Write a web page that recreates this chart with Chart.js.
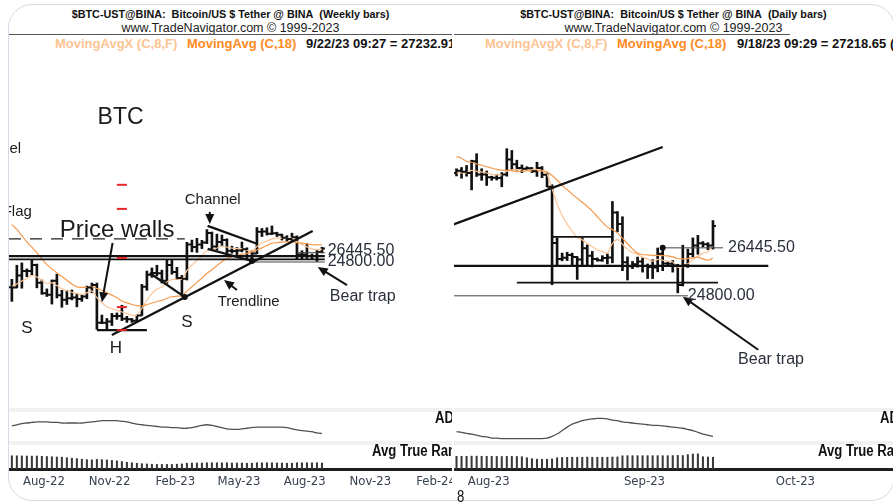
<!DOCTYPE html>
<html>
<head>
<meta charset="utf-8">
<script src="https://cdn.jsdelivr.net/npm/chart.js@4.4.0/dist/chart.umd.min.js"></script>
<style>
  html, body { margin: 0; padding: 0; background: #fff; }
  #wrap { position: relative; width: 893px; height: 504px; overflow: hidden; background: #fff;
          font-family: 'Liberation Sans', Arial, sans-serif; }
  .frame { position: absolute; left: 8px; top: 4px; width: 887px; height: 497px; box-sizing: border-box;
           border: 1.5px solid #d3dce5; border-radius: 24px; }
  .panel { position: absolute; top: 0; height: 504px; overflow: hidden; }
  #pl { left: 9px; width: 443px; }
  #pr { left: 454px; width: 439px; }
  .h1 { position: absolute; top: 7px; left: 0; width: 100%; text-align: center; white-space: nowrap;
        font-weight: bold; font-size: 10.8px; line-height: 14px; color: #111; }
  .h2 { position: absolute; top: 21px; left: 0; width: 100%; text-align: center; white-space: nowrap;
        font-size: 12.5px; line-height: 15px; color: #222; }
  .sep { position: absolute; top: 34px; height: 1px; background: #555; }
  .h3 { position: absolute; top: 36px; white-space: nowrap; font-weight: bold; font-size: 13px; line-height: 16px; }
  .ma8 { color: #fcc393; }
  .ma18 { color: #ff8a1e; }
  .strip { position: absolute; left: 0; width: 100%; height: 4px; background: #f1f1f1; }
  canvas { position: absolute; left: 0; }
  .lab { position: absolute; white-space: nowrap; font-weight: bold; font-size: 16px; line-height: 16px;
         transform: scaleX(0.82); transform-origin: left center; color: #111; }
</style>
</head>
<body>
<div id="wrap">
  <div class="frame"></div>

  <div class="panel" id="pl">
    <div class="h1">$BTC-UST@BINA:&nbsp; Bitcoin/US $ Tether @ BINA&nbsp; (Weekly bars)</div>
    <div class="h2">www.TradeNavigator.com © 1999-2023</div>
    <div class="sep" style="left:0;width:443px"></div>
    <div class="h3 ma8" style="left:46px">MovingAvgX (C,8,F)</div>
    <div class="h3 ma18" style="left:178px">MovingAvg (C,18)</div>
    <div class="h3" style="left:297px;color:#111">9/22/23 09:27 = 27232.91 (+0.52%)</div>
    <canvas id="lp" width="443" height="358" style="top:50px"></canvas>
    <div class="strip" style="top:408px"></div>
    <canvas id="la" width="443" height="29" style="top:412px"></canvas>
    <div class="strip" style="top:441px"></div>
    <canvas id="lt" width="443" height="50" style="top:445px"></canvas>
    <div class="lab" style="left:426px;top:410px">ADX</div>
    <div class="lab" style="left:363px;top:443px">Avg True Range</div>
  </div>

  <div class="panel" id="pr">
    <div class="h1">$BTC-UST@BINA:&nbsp; Bitcoin/US $ Tether @ BINA&nbsp; (Daily bars)</div>
    <div class="h2">www.TradeNavigator.com © 1999-2023</div>
    <div class="sep" style="left:0;width:336px"></div>
    <div class="h3 ma8" style="left:31px">MovingAvgX (C,8,F)</div>
    <div class="h3 ma18" style="left:163px">MovingAvg (C,18)</div>
    <div class="h3" style="left:283px;color:#111">9/18/23 09:29 = 27218.65 (+2.62%)</div>
    <canvas id="rp" width="439" height="358" style="top:50px"></canvas>
    <div class="strip" style="top:408px"></div>
    <canvas id="ra" width="439" height="29" style="top:412px"></canvas>
    <div class="strip" style="top:441px"></div>
    <canvas id="rt" width="439" height="50" style="top:445px"></canvas>
    <div class="lab" style="left:426px;top:410px">ADX</div>
    <div class="lab" style="left:364px;top:443px">Avg True Range</div>
    <div class="lab" style="left:3px;top:489px;font-weight:normal">8</div>
  </div>
</div>

<script>
// weekly bars, first bar week of 11 Jul 2022
const weekStart = '2022-07-11';
const wOpen = [20850,20800,22600,23300,23300,24300,21500,20000,19800,21800,
               19700,19100,19300,19400,19200,19550,20800,21150,16300,16300,
               16450,17100,17100,16770,16700,16550,17150,20900,22700,23000,
               22950,21800,24300,23150,22200,22100,28000,27500,28000,28350,
               30300,27600,28450,28850,26800,26750,26850,27100,25850,26300,
               30550,30600,30150,30250,29900,29300,29050,29400,26100,26100,
               25850,25850,26550];
const wHigh = [22000,24250,24650,23650,25200,24450,21900,20600,21900,22800,
               20400,20400,20450,19950,19700,21000,21450,21450,17200,16800,
               17400,17450,18400,17050,16800,17200,21250,23300,23800,24250,
               23450,25250,25100,23900,22600,28400,28850,29200,28800,31000,
               30500,30050,29850,29100,27650,27400,28450,27350,26800,31450,
               31250,31400,31800,30450,30050,29750,30250,29700,26800,28150,
               26200,26850,27450];
const wLow = [18900,20750,20700,22400,22650,20750,19850,19550,18550,19350,
              18150,18500,19100,18200,18900,19250,20050,15600,16200,15500,
              16000,16700,16550,16350,16350,16550,17150,20400,22300,22550,
              21450,21400,22800,21950,19550,21900,26600,26500,27200,28150,
              27150,26950,27700,25800,26350,25900,26600,25350,24800,26250,
              29550,29850,29950,29550,28850,28600,28750,25200,25350,25400,
              25300,24900,26400];
const wClose = [20800,22600,23300,23300,24300,21500,20000,19800,21800,19700,
                19100,19300,19400,19200,19550,20800,21150,16300,16300,16450,
                17100,17100,16770,16700,16550,17150,20900,22700,23000,22950,
                21800,24300,23150,22200,22100,28000,27500,28000,28350,30300,
                27600,28450,28850,26800,26750,26850,27100,25850,26300,30550,
                30600,30150,30250,29900,29300,29050,29400,26100,26100,25850,
                25850,26550,27230];
const wEma8 = [20960,21320,21760,22100,22590,22350,21830,21380,21470,21080,
               20640,20340,20130,19920,19840,20050,20300,19410,18720,18220,
               17970,17780,17560,17370,17190,17180,18010,19050,19930,20600,
               20870,21630,21970,22020,22040,23360,24280,25110,25830,26820,
               26990,27310,27650,27460,27300,27200,27180,26890,26760,27600,
               28270,28680,29030,29220,29240,29200,29240,28540,28000,27520,
               27150,27020,27060];
const wSma18 = [32090,31060,29750,28470,27470,26460,25380,24340,23650,23010,
                22430,21870,21290,20880,20820,20810,20910,20660,20410,20070,
                19730,19380,18960,18700,18500,18360,18310,18470,18690,18890,
                19030,19310,19510,19590,19640,20290,20910,21550,22180,22910,
                23510,24170,24850,25390,25710,25940,26170,26330,26580,26930,
                27340,27780,28240,28340,28440,28500,28560,28330,28240,28100,
                27930,27920,27940];
const wAdx = [26,28,30,31,32,33,33,33,32,32,
              31,31,31,31,31,32,33,34,35,35,
              35,35,34,33,31,29,28,27,26,25,
              24,24,23,23,22,22,23,25,27,28,
              27,25,23,21,20,20,21,22,23,24,
              24,24,24,24,24,23,21,19,18,17,
              16,14,13];
const wAtr = [2750,2750,2720,2700,2680,2700,2650,2600,2550,2500,
              2450,2350,2250,2150,2050,1950,1900,2000,1950,1900,
              1800,1700,1550,1400,1300,1200,1100,1050,1000,950,
              950,950,950,1000,1050,1200,1250,1250,1250,1300,
              1300,1300,1300,1300,1250,1250,1250,1200,1200,1300,
              1300,1300,1300,1250,1250,1200,1200,1300,1300,1300,
              1300,1300,1250];

// daily bars, first bar 29 Jul 2023
const dayStart = '2023-07-29';
const dOpen = [29230,29320,29280,29230,29700,29180,29180,29070,29050,29040,
               29180,29770,29580,29430,29400,29420,29300,29430,29170,28700,
               26620,26050,26100,26190,26120,26040,26430,26170,26050,26010,
               26090,26110,27730,27300,25940,25800,25870,25970,25810,25780,
               25760,26240,25900,25890,25830,25160,25840,26230,26530,26610,
               26570,26530];
const dHigh = [29400,29450,29530,29740,30000,29400,29310,29110,29170,29250,
               30200,30130,29740,29550,29480,29450,29660,29490,29230,28780,
               26800,26260,26290,26260,26140,26800,26550,26320,26090,26170,
               26230,28140,27760,27570,26130,25970,26120,26090,25880,26030,
               26440,26420,25950,26000,25870,26540,26400,26800,26890,26670,
               26630,27430];
const dLow = [29120,29030,29110,28580,29100,28950,28750,28950,28960,28700,
              29110,29350,29350,29250,29360,29250,29100,29050,28700,25170,
              25800,25990,26000,25810,25350,25790,25850,25780,25980,25970,
              25880,25920,27020,25650,25330,25720,25770,25600,25380,25380,
              25610,25650,25800,25600,24900,25130,25760,26130,26220,26480,
              26380,26400];
const dClose = [29320,29280,29230,29700,29180,29180,29070,29050,29040,29180,
                29770,29580,29430,29400,29420,29300,29430,29170,28700,26620,
                26050,26100,26190,26120,26040,26430,26170,26050,26010,26090,
                26110,27730,27300,25940,25800,25870,25970,25810,25780,25760,
                26240,25900,25890,25830,25160,25840,26230,26530,26610,26570,
                26530,27230];
const dEma8 = [29230,29240,29240,29340,29300,29280,29230,29190,29160,29160,
               29300,29360,29380,29380,29390,29370,29380,29330,29190,28620,
               28050,27620,27300,27040,26820,26730,26610,26490,26380,26320,
               26270,26600,26750,26570,26400,26280,26210,26120,26050,25980,
               26040,26010,25980,25950,25770,25790,25890,26030,26160,26250,
               26310,26510];
const dSma18 = [29880,29820,29690,29660,29590,29540,29480,29430,29380,29350,
                29340,29330,29290,29310,29320,29310,29330,29320,29280,29140,
                28960,28760,28590,28420,28260,28110,27950,27780,27570,27370,
                27190,27100,26980,26790,26590,26410,26260,26210,26200,26180,
                26180,26170,26160,26130,26070,26060,26070,26090,26120,26060,
                26010,26090];
const dAdx = [16,15,13,12,10,8,7,5,5,4,
              4,4,4,4,4,4,4,4,5,8,
              12,18,24,29,32,35,37,38,39,39,
              38,36,35,33,32,31,30,29,28,27,
              27,26,25,24,23,22,20,18,15,12,
              10,8];
const dAtr = [530,530,530,535,535,530,530,525,525,520,
              525,525,520,510,470,430,410,405,405,420,
              470,480,485,490,490,490,495,490,490,490,
              490,500,505,550,555,555,555,555,555,555,
              555,555,555,560,565,560,600,625,630,510,
              500,490];

// axis labels
const leftTicks = ['2022-08-01','2022-11-01','2023-02-01','2023-05-01','2023-08-01','2023-11-01','2024-02-01'];
const leftTickLabels = ['Aug-22','Nov-22','Feb-23','May-23','Aug-23','Nov-23','Feb-24'];
const rightTicks = ['2023-08-01','2023-09-01','2023-10-01'];
const rightTickLabels = ['Aug-23','Sep-23','Oct-23'];

// drawn notes, in [date, price] terms
const leftThick = [
  ['2022-11-28',14980,'2023-09-05',30730],   // trendline
  ['2022-07-07',25815,'2023-09-22',25815],
  ['2023-01-20',22985,'2023-03-10',19470],
  ['2023-04-11',31800,'2023-06-20',28080],   // channel top
  ['2023-04-11',27130,'2023-06-12',24970],   // channel bottom
  ['2022-11-07',15500,'2023-01-16',15500]
];
const leftMid = [['2022-07-07',25240,'2023-09-22',25240]];
const leftThin = [['2023-06-09',24800,'2023-09-22',24800], ['2023-08-14',26445.5,'2023-09-22',26445.5]];
const leftDashed = [['2022-07-07',29070,'2023-03-10',29070]];
const leftArrows = [
  ['2022-11-29',28280,'2022-11-14',18780],
  ['2023-04-14',35040,'2023-04-14',32250],
  ['2023-05-22',20440,'2023-05-04',21900],
  ['2023-10-23',21150,'2023-09-12',23960]
];
const leftDots = [['2023-03-10',19470], ['2023-06-12',24970]];
const leftTexts = [
  ['BTC','2022-11-08',67100,'big','left'],
  ['Channel','2022-07-24',54170,'small','right'],
  ['Flag','2022-08-08',35040,'small','right'],
  ['Price walls','2022-09-16',30940,'huge','left'],
  ['Channel','2023-03-10',37960,'small','left'],
  ['Trendline','2023-04-25',18780,'small','left'],
  ['26445.50','2023-09-26',26900,'num','left'],
  ['24800.00','2023-09-26',24870,'num','left'],
  ['Bear trap','2023-09-29',19600,'num','left'],
  ['S','2022-07-24',15730,'letter','left'],
  ['H','2022-11-25',13690,'letter','left'],
  ['S','2023-03-05',16360,'letter','left']
];
const leftReds = [['2022-12-12',42230],['2022-12-12',35770],['2022-12-12',25500],['2022-12-12',18170],['2022-12-12',15500]];

const rightThick = [
  ['2023-07-28',27260,'2023-09-08',30270],
  ['2023-07-28',25815,'2023-09-29',25815]
];
const rightMid = [['2023-08-10',25240,'2023-09-19',25240], ['2023-08-17',26840,'2023-08-29',26840]];
const rightThin = [['2023-07-28',24800,'2023-09-13',24800], ['2023-09-08',26445.5,'2023-09-20',26445.5]];
const rightArrows = [['2023-09-27',23070,'2023-09-12',24770]];
const rightDots = [['2023-09-08',26445.5]];
const rightTexts = [
  ['26445.50','2023-09-21',26445.5,'num','left'],
  ['24800.00','2023-09-13',24800,'num','left'],
  ['Bear trap','2023-09-23',22760,'num','left']
];

const DAY = 864e5;
function day(s) { return Date.parse(s + 'T00:00:00Z') / DAY; }
function series(start, step, vals) {
  const d0 = day(start);
  return vals.map((v, i) => ({x: d0 + i * step, y: v}));
}
function ranges(start, step, lo, hi) {
  const d0 = day(start);
  return lo.map((v, i) => ({x: d0 + i * step, y: [v, hi[i]]}));
}

const fonts = {
  huge: '24px "Liberation Sans", Arial, sans-serif',
  big: '23px "Liberation Sans", Arial, sans-serif',
  letter: '17px "Liberation Sans", Arial, sans-serif',
  num: '16px "Liberation Sans", Arial, sans-serif',
  small: '15px "Liberation Sans", Arial, sans-serif'
};

function makeNotes(n) {
  return {
    id: 'notes',
    afterDatasetsDraw(chart) {
      const ctx = chart.ctx, xs = chart.scales.x, ys = chart.scales.y;
      const X = d => xs.getPixelForValue(typeof d === 'string' ? day(d) : d);
      const Y = p => ys.getPixelForValue(p);
      ctx.save();
      // open / close ticks of the bars
      const o = n.ohlc, d0 = day(o.start);
      ctx.strokeStyle = '#111';
      ctx.lineWidth = 2;
      ctx.beginPath();
      o.open.forEach((v, i) => {
        const x = X(d0 + i * o.step);
        ctx.moveTo(x - 3, Y(v)); ctx.lineTo(x, Y(v));
        ctx.moveTo(x, Y(o.close[i])); ctx.lineTo(x + 3, Y(o.close[i]));
      });
      ctx.stroke();

      const seg = (list, w, color, dash) => {
        ctx.strokeStyle = color; ctx.lineWidth = w; ctx.setLineDash(dash || []);
        (list || []).forEach(s => {
          ctx.beginPath(); ctx.moveTo(X(s[0]), Y(s[1])); ctx.lineTo(X(s[2]), Y(s[3])); ctx.stroke();
        });
        ctx.setLineDash([]);
      };
      seg(n.thin, 1, '#444');
      seg(n.mid, 1.8, '#111');
      seg(n.thick, 2.3, '#111');
      seg(n.dashed, 1.3, '#222', [12, 9]);

      (n.arrows || []).forEach(a => {
        const x1 = X(a[0]), y1 = Y(a[1]), x2 = X(a[2]), y2 = Y(a[3]);
        const ang = Math.atan2(y2 - y1, x2 - x1);
        ctx.strokeStyle = '#111'; ctx.fillStyle = '#111'; ctx.lineWidth = 2;
        ctx.beginPath(); ctx.moveTo(x1, y1); ctx.lineTo(x2 - 6 * Math.cos(ang), y2 - 6 * Math.sin(ang)); ctx.stroke();
        ctx.beginPath();
        ctx.moveTo(x2, y2);
        ctx.lineTo(x2 - 10 * Math.cos(ang) + 4.5 * Math.sin(ang), y2 - 10 * Math.sin(ang) - 4.5 * Math.cos(ang));
        ctx.lineTo(x2 - 10 * Math.cos(ang) - 4.5 * Math.sin(ang), y2 - 10 * Math.sin(ang) + 4.5 * Math.cos(ang));
        ctx.closePath(); ctx.fill();
      });

      ctx.fillStyle = '#111';
      (n.dots || []).forEach(d => {
        ctx.beginPath(); ctx.arc(X(d[0]), Y(d[1]), 3, 0, Math.PI * 2); ctx.fill();
      });

      ctx.strokeStyle = '#e8262a'; ctx.lineWidth = 2;
      (n.reds || []).forEach(r => {
        const x = X(r[0]), y = Y(r[1]);
        ctx.beginPath(); ctx.moveTo(x - 5, y); ctx.lineTo(x + 5, y); ctx.stroke();
      });

      ctx.textBaseline = 'middle';
      (n.texts || []).forEach(t => {
        ctx.font = fonts[t[3]];
        ctx.fillStyle = t[3] === 'num' ? '#2a2f3b' : '#1b1b1b';
        ctx.textAlign = t[4];
        ctx.fillText(t[0], X(t[1]), Y(t[2]));
      });
      ctx.restore();
    }
  };
}

const base = {
  responsive: false,
  animation: false,
  events: [],
  layout: { padding: 0 },
  plugins: { legend: { display: false }, tooltip: { enabled: false } }
};

function priceChart(id, range, yMin, yMax, start, step, o, h, l, c, ema, sma, notes, barW) {
  notes.ohlc = { start: start, step: step, open: o, close: c };
  new Chart(document.getElementById(id), {
    type: 'bar',
    data: {
      datasets: [
        { type: 'line', data: series(start, step, sma), borderColor: '#f59a4e', borderWidth: 1.2, pointRadius: 0, tension: 0.35 },
        { type: 'line', data: series(start, step, ema), borderColor: '#fcc597', borderWidth: 1.2, pointRadius: 0, tension: 0.35 },
        { data: ranges(start, step, l, h), backgroundColor: '#111', barThickness: barW, borderWidth: 0 }
      ]
    },
    options: Object.assign({}, base, {
      scales: {
        x: { type: 'linear', display: false, offset: false, min: range[0], max: range[1] },
        y: { type: 'logarithmic', display: false, min: yMin, max: yMax }
      }
    }),
    plugins: [makeNotes(notes)]
  });
}

function adxChart(id, range, start, step, vals) {
  new Chart(document.getElementById(id), {
    type: 'line',
    data: { datasets: [{ data: series(start, step, vals), borderColor: '#505050', borderWidth: 1.3, pointRadius: 0, tension: 0.3 }] },
    options: Object.assign({}, base, {
      scales: {
        x: { type: 'linear', display: false, min: range[0], max: range[1] },
        y: { display: false, min: 0, max: 50 }
      }
    })
  });
}

function atrChart(id, range, start, step, vals, yMax, ticks, labels) {
  new Chart(document.getElementById(id), {
    type: 'bar',
    data: { datasets: [{ data: series(start, step, vals), backgroundColor: '#3a3a3a', barThickness: 1.4 }] },
    options: Object.assign({}, base, {
      scales: {
        x: {
          type: 'linear', offset: false, min: range[0], max: range[1],
          afterBuildTicks: s => { s.ticks = ticks.map(t => ({ value: day(t) })); },
          afterFit: s => { s.height = 26; s.paddingLeft = 0; s.paddingRight = 0; },
          ticks: {
            autoSkip: false, maxRotation: 0, minRotation: 0, labelOffset: 17, padding: 5,
            color: '#37404f',
            font: { family: "'DejaVu Sans Condensed', 'Liberation Sans Narrow', sans-serif", size: 13 },
            callback: (v, i) => labels[i]
          },
          grid: { display: false, drawTicks: false },
          border: { display: true, color: '#1e1e1e', width: 3 }
        },
        y: { display: false, min: 0, max: yMax }
      }
    })
  });
}

const leftRange = [day('2022-07-07'), day('2024-03-18')];
const rightRange = [day('2023-07-28') + 0.5, day('2023-10-23') + 0.8];

priceChart('lp', leftRange, 9060, 107000, weekStart, 7, wOpen, wHigh, wLow, wClose, wEma8, wSma18, {
  thick: leftThick, mid: leftMid, thin: leftThin, dashed: leftDashed, arrows: leftArrows,
  dots: leftDots, texts: leftTexts, reds: leftReds
}, 2);
adxChart('la', leftRange, weekStart, 7, wAdx);
atrChart('lt', leftRange, weekStart, 7, wAtr, 5000, leftTicks, leftTickLabels);

priceChart('rp', rightRange, 21340, 34470, dayStart, 1, dOpen, dHigh, dLow, dClose, dEma8, dSma18, {
  thick: rightThick, mid: rightMid, thin: rightThin, arrows: rightArrows, dots: rightDots, texts: rightTexts
}, 2);
adxChart('ra', rightRange, dayStart, 1, dAdx);
atrChart('rt', rightRange, dayStart, 1, dAtr, 1000, rightTicks, rightTickLabels);
</script>
</body>
</html>
